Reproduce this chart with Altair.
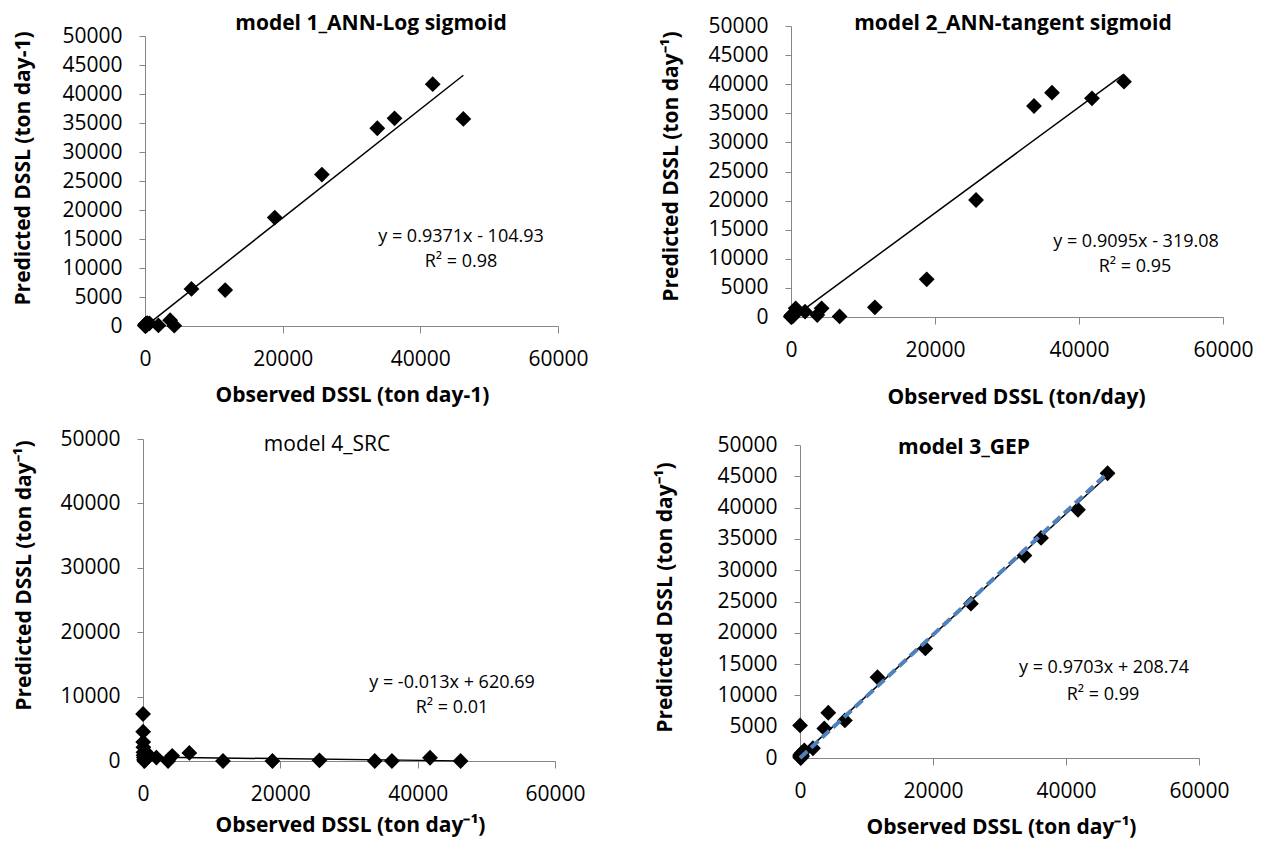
import altair as alt
import pandas as pd

# ---------------- data ----------------
observed = [10, 20, 30, 50, 70, 90, 120, 160, 200, 260, 320, 650, 1950, 3650,
            4250, 6750, 11650, 18850, 25700, 33750, 36250, 41800, 46250]

pred_ann_log = [100, 50, 200, 0, 300, 150, 50, 400, 100, 250, 500, 460, 100, 1000,
                50, 6400, 6200, 18700, 26100, 34100, 35800, 41700, 35700]
pred_ann_tan = [50, 100, 0, 200, 300, 150, 50, 100, 400, 200, 250, 1490, 920, 340,
                1490, 100, 1660, 6470, 20100, 36250, 38540, 37570, 40430]
pred_src = [7300, 4550, 2940, 2140, 1340, 900, 535, 200, 0, 100, 300, 1140, 535, 0,
            800, 1250, 0, 0, 100, 0, 0, 500, 0]
pred_gep = [5200, 300, 100, 500, 200, 400, 0, 600, 150, 800, 300, 1200, 1560, 4720,
            7230, 6000, 12900, 17500, 24650, 32340, 35150, 39660, 45490]

slopes = [0.9371, 0.9095, -0.013, 0.9703]
intercepts = [-104.93, -319.08, 620.69, 208.74]
equations = ["y = 0.9371x - 104.93", "y = 0.9095x - 319.08",
             "y = -0.013x + 620.69", "y = 0.9703x + 208.74"]
r2_labels = ["R² = 0.98", "R² = 0.95", "R² = 0.01", "R² = 0.99"]
titles = ["model 1_ANN-Log sigmoid", "model 2_ANN-tangent sigmoid",
          "model 4_SRC", "model 3_GEP"]
y_titles = ["Predicted DSSL  (ton day-1)", "Predicted DSSL (ton day⁻¹)",
            "Predicted DSSL  (ton day⁻¹)", "Predicted DSSL  (ton day⁻¹)"]
x_titles = ["Observed DSSL (ton day-1)", "Observed DSSL (ton/day)",
            "Observed DSSL (ton day⁻¹)", "Observed DSSL (ton day⁻¹)"]
x_ticks = [0, 20000, 40000, 60000]
y_ticks_5k = [0, 5000, 10000, 15000, 20000, 25000, 30000, 35000, 40000, 45000, 50000]
y_ticks_10k = [0, 10000, 20000, 30000, 40000, 50000]
ref_obs = [0, 46250]
ref_pred = [0, 45500]

# ---------------- layout ----------------
W, H = 1249, 834
FONT = "Open Sans"
AXIS_COLOR = "#868686"


def panel(k, pred, xr, yr, yvals, title_bold, title_xy, eq_xy, r2_xy,
          ytitle_xy, xtitle_xy, with_ref=False):
    xs = alt.Scale(domain=[0, 60000], range=xr, nice=False, zero=False)
    ys = alt.Scale(domain=[0, 50000], range=yr, nice=False, zero=False)
    xaxis = alt.Axis(orient="bottom", offset=yr[0] - H, values=x_ticks, format="d",
                     title=x_titles[k], titleX=xtitle_xy[0], titleY=xtitle_xy[1] - yr[0],
                     titleBaseline="middle", titleAlign="center",
                     tickSize=7, labelPadding=15, labelFlush=False, labelOverlap=False)
    yaxis = alt.Axis(orient="left", offset=-xr[0], values=yvals, format="d",
                     title=y_titles[k], titleX=ytitle_xy[0] - xr[0], titleY=ytitle_xy[1],
                     titleBaseline="middle", titleAlign="center", titleAngle=270,
                     tickSize=6, labelPadding=17, labelFlush=False, labelOverlap=False)

    pts = pd.DataFrame({"obs": observed, "pred": pred})
    x0, x1 = min(observed), max(observed)
    trend = pd.DataFrame({"obs": [x0, x1],
                          "pred": [slopes[k] * x0 + intercepts[k], slopes[k] * x1 + intercepts[k]]})

    enc = dict(x=alt.X("obs:Q", scale=xs, axis=xaxis),
               y=alt.Y("pred:Q", scale=ys, axis=yaxis))

    layers = [
        alt.Chart(trend).mark_line(color="black", strokeWidth=1.5).encode(**enc),
        alt.Chart(pts).mark_point(shape="diamond", filled=True, size=250,
                                  color="black", opacity=1).encode(**enc),
    ]
    if with_ref:
        ref = pd.DataFrame({"obs": ref_obs, "pred": ref_pred})
        layers.append(alt.Chart(ref).mark_line(color="#4F81BD", strokeWidth=4,
                                               strokeDash=[10, 5]).encode(**enc))

    def txt(label, xy, size, weight):
        return alt.Chart(pd.DataFrame({"label": [label]})).mark_text(
            font=FONT, fontSize=size, fontWeight=weight, color="black",
            align="center", baseline="middle"
        ).encode(text="label:N", x=alt.value(xy[0]), y=alt.value(xy[1]))

    layers.append(txt(titles[k], title_xy, 21, "bold" if title_bold else "normal"))
    layers.append(txt(equations[k], eq_xy, 18, "normal"))
    layers.append(txt(r2_labels[k], r2_xy, 18, "normal"))
    return alt.layer(*layers)


p1 = panel(0, pred_ann_log, [137, 550], [318, 28], y_ticks_5k, True,
           (363, 16), (453, 229), (453, 254), (15, 160), (344, 387))
p2 = panel(1, pred_ann_tan, [783, 1215], [309, 18], y_ticks_5k, True,
           (1005, 16), (1128, 234), (1127, 259), (663, 158), (1008, 389))
p3 = panel(2, pred_src, [135, 547], [753, 431], y_ticks_10k, False,
           (319, 437), (444, 675), (444, 700), (16, 567), (342, 817))
p4 = panel(3, pred_gep, [792, 1191], [750, 437], y_ticks_5k, True,
           (956, 440), (1096, 660), (1095, 687), (657, 589), (993, 819), with_ref=True)

chart = alt.layer(p1, p2, p3, p4).resolve_scale(
    x="independent", y="independent"
).properties(
    width=W, height=H, padding=0,
    autosize=alt.AutoSizeParams(type="none")
).configure_view(stroke=None).configure_axis(
    grid=False, domainColor=AXIS_COLOR, tickColor=AXIS_COLOR, domainWidth=1,
    labelFont=FONT, labelFontSize=21, labelColor="black",
    titleFont=FONT, titleFontSize=21, titleFontWeight="bold", titleColor="black"
)

chart.save("out.html", embed_options={"renderer": "svg", "actions": False})
